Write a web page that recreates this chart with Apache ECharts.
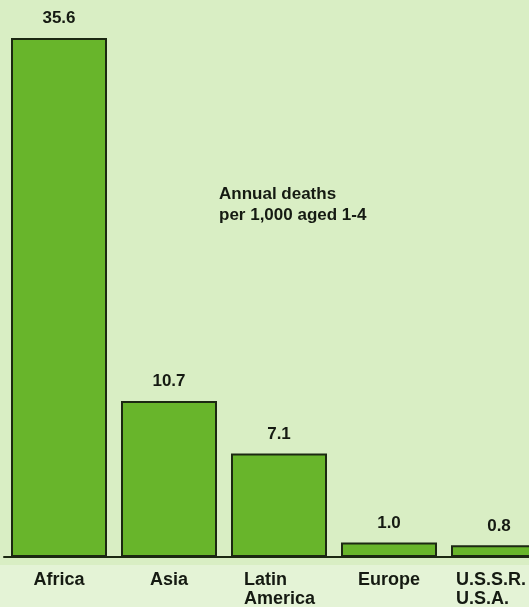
<!DOCTYPE html>
<html>
<head>
<meta charset="utf-8">
<style>
  html, body { margin: 0; padding: 0; background: #d9eec4; }
  #chart { width: 529px; height: 607px; }
</style>
<script src="https://cdn.jsdelivr.net/npm/echarts@6/dist/echarts.min.js"></script>
</head>
<body>
<div id="chart"></div>
<script>
// Child mortality by region
const regions = ['Africa', 'Asia', 'Latin\nAmerica', 'Europe', 'U.S.S.R.\nU.S.A.'];
const deathsPer1000 = [35.6, 10.7, 7.1, 1.0, 0.8];
const valueLabels = ['35.6', '10.7', '7.1', '1.0', '0.8'];

const FONT = '"Liberation Sans", Arial, Helvetica, sans-serif';
const INK = '#151a12';
const chart = echarts.init(document.getElementById('chart'));

chart.setOption({
  backgroundColor: '#d9eec4',
  animation: false,
  graphic: [
    {
      type: 'rect', z: -10, silent: true,
      shape: { x: 0, y: 565, width: 529, height: 42 },
      style: { fill: '#e4f3d6' }
    },
    {
      type: 'text', left: 219, top: 184,
      style: {
        text: 'Annual deaths\nper 1,000 aged 1-4',
        font: 'bold 17px ' + FONT,
        lineHeight: 21,
        fill: INK
      }
    }
  ],
  // the last bar runs past the right edge of the page
  grid: { left: 4, top: 38, width: 550, bottom: 50, containLabel: false, outerBoundsMode: 'none' },
  xAxis: {
    type: 'category',
    data: regions,
    axisTick: { show: false },
    axisLine: { show: true, lineStyle: { color: '#1c2812', width: 2 } },
    axisLabel: {
      margin: 14,
      interval: 0,
      fontFamily: FONT,
      fontWeight: 'bold',
      fontSize: 18,
      lineHeight: 19,
      color: INK,
      formatter: function (v, i) {
        if (v.indexOf('\n') < 0) return v;
        const w = i === 2 ? 'la' : 'lb';
        return v.split('\n').map(s => '{' + w + '|' + s + '}').join('\n');
      },
      rich: {
        la: { width: 70, align: 'left', fontFamily: FONT, fontWeight: 'bold', fontSize: 18, lineHeight: 19, color: INK },
        lb: { width: 86, align: 'left', fontFamily: FONT, fontWeight: 'bold', fontSize: 18, lineHeight: 19, color: INK }
      }
    }
  },
  yAxis: {
    type: 'value',
    min: 0,
    max: 35.6,
    show: false,
    splitLine: { show: false }
  },
  series: [{
    type: 'bar',
    data: deathsPer1000,
    barWidth: 96,
    itemStyle: { color: '#68b52b', borderColor: '#1c2812', borderWidth: 2 },
    label: {
      show: true,
      position: 'top',
      distance: 11,
      fontFamily: FONT,
      fontWeight: 'bold',
      fontSize: 17,
      color: INK,
      formatter: p => valueLabels[p.dataIndex]
    }
  }]
});
</script>
</body>
</html>
